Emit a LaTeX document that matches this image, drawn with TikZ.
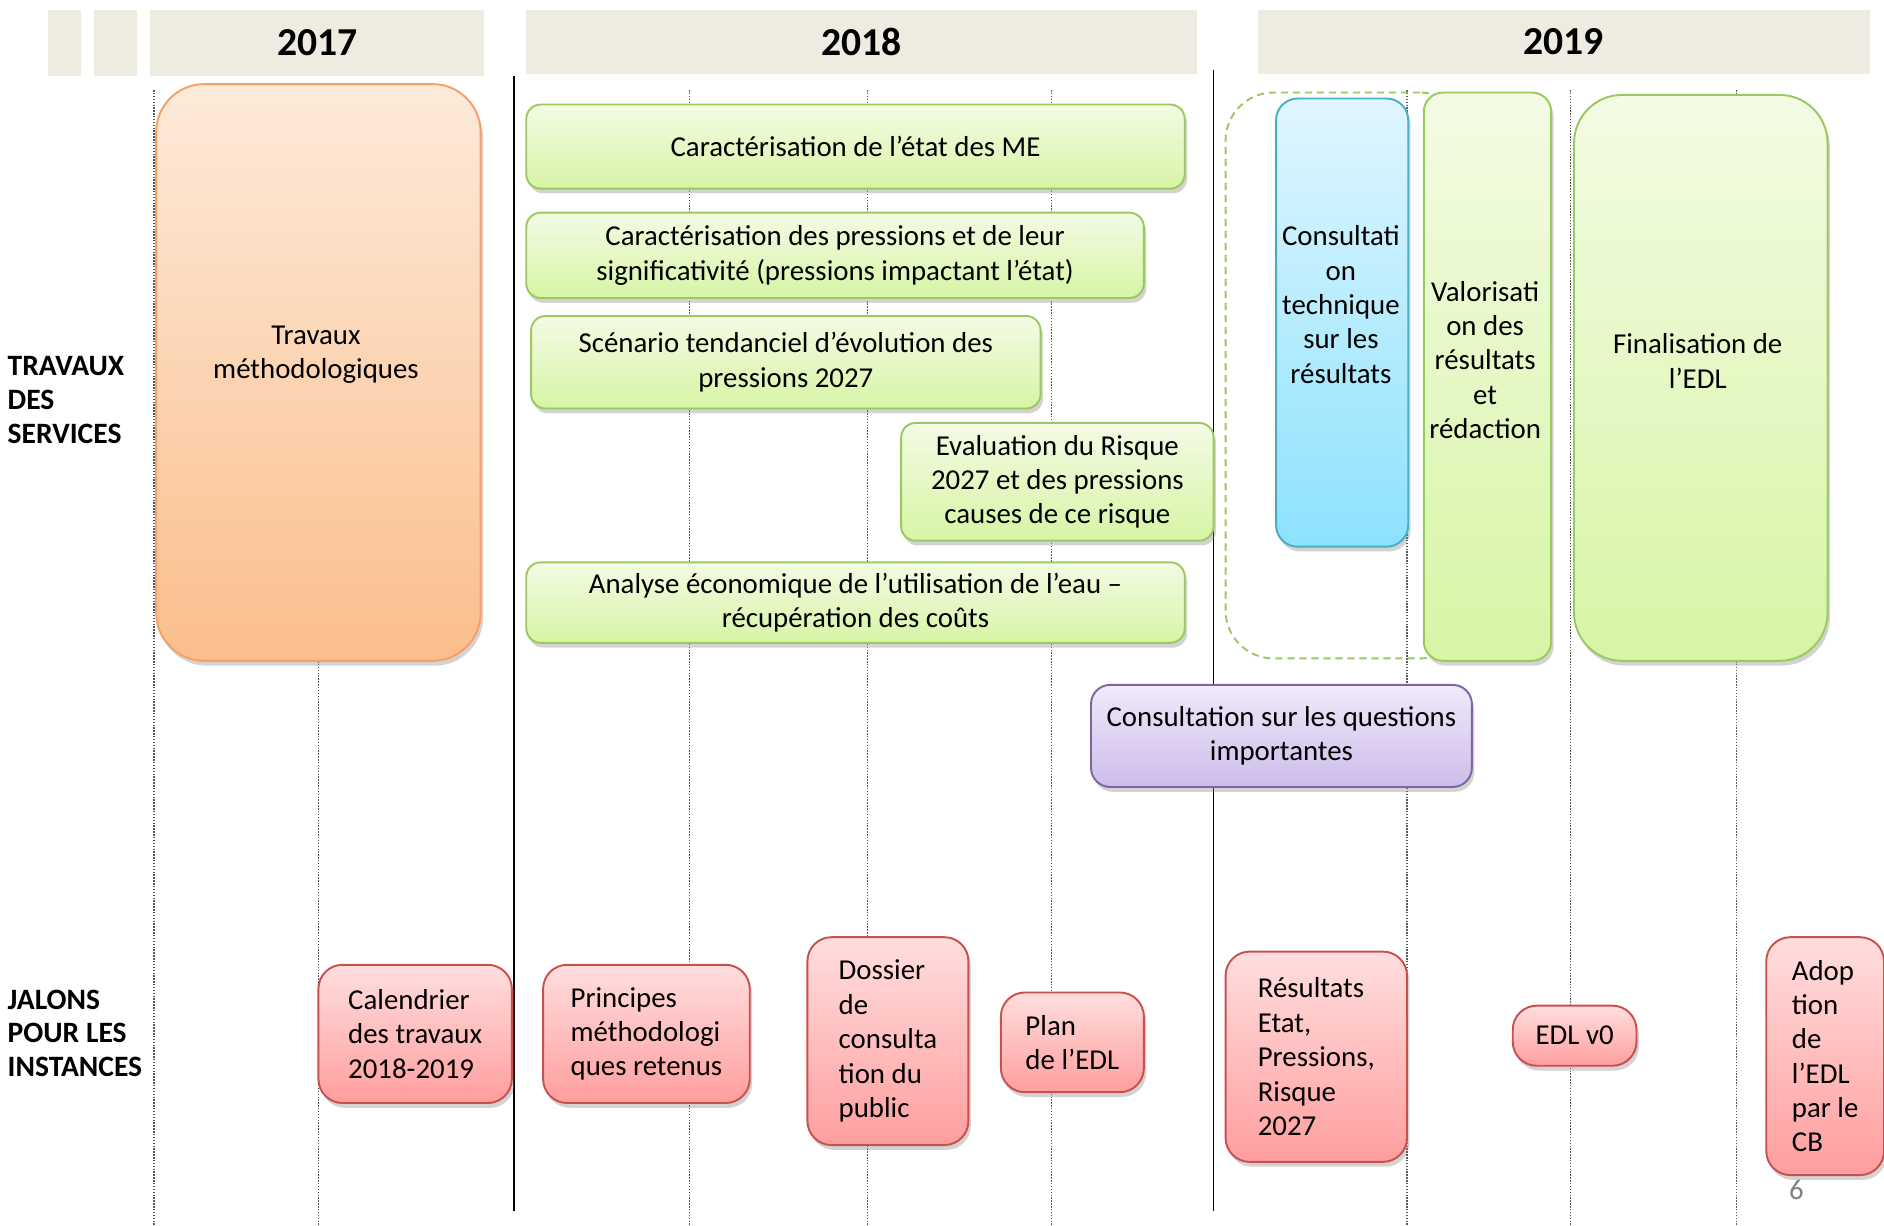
\documentclass[tikz,border=0pt]{standalone}
\usepackage{fontspec}
\setmainfont{Carlito}
\usetikzlibrary{shadows}

\definecolor{beige}{RGB}{238,236,225}
\definecolor{vertbord}{RGB}{155,200,95}
\definecolor{verthaut}{RGB}{243,251,228}
\definecolor{vertbas}{RGB}{214,245,165}
\definecolor{orangebord}{RGB}{247,160,100}
\definecolor{orangehaut}{RGB}{253,234,218}
\definecolor{orangebas}{RGB}{251,190,140}
\definecolor{bleubord}{RGB}{75,172,198}
\definecolor{bleuhaut}{RGB}{224,246,254}
\definecolor{bleubas}{RGB}{140,226,253}
\definecolor{violetbord}{RGB}{128,100,162}
\definecolor{violethaut}{RGB}{240,234,250}
\definecolor{violetbas}{RGB}{205,188,235}
\definecolor{rougebord}{RGB}{200,80,77}
\definecolor{rougehaut}{RGB}{255,222,222}
\definecolor{rougebas}{RGB}{255,158,158}

\tikzset{
  bloc/.style={rounded corners=6pt, line width=0.8pt, inner sep=0pt, align=center,
    drop shadow={shadow xshift=1pt, shadow yshift=-2pt, opacity=0.35}},
  travail/.style={bloc, draw=vertbord, top color=verthaut, bottom color=vertbas},
  methodo/.style={bloc, rounded corners=20pt, draw=orangebord, top color=orangehaut, bottom color=orangebas},
  consult/.style={bloc, rounded corners=9pt, draw=bleubord, top color=bleuhaut, bottom color=bleubas},
  questions/.style={bloc, rounded corners=8pt, draw=violetbord, top color=violethaut, bottom color=violetbas},
  jalon/.style={bloc, rounded corners=10pt, align=left, draw=rougebord, top color=rougehaut, bottom color=rougebas},
  groupe/.style={draw=vertbord, dash pattern=on 3pt off 2pt, rounded corners=20pt, line width=0.8pt},
  annee/.style={fill=beige, inner sep=0pt, font=\fontsize{16.5}{18}\bfseries\selectfont},
  rubrique/.style={anchor=west, align=left, inner sep=0pt, font=\fontsize{12.3}{14}\bfseries\selectfont},
  pointille/.style={black!65, dash pattern=on 0.6pt off 0.6pt, line width=0.6pt},
  texte/.style={align=center, inner sep=0pt},
}

\begin{document}
\begin{tikzpicture}[x=0.5pt,y=0.5pt,yscale=-1,xscale=1,every node/.style={font=\fontsize{12}{14.3}\selectfont}]
\useasboundingbox (0,0) rectangle (1568,1020);
\clip (0,0) rectangle (1568,1020);

% Years
\node[annee, minimum width=13.5pt, minimum height=27.5pt] (vide1) at (53.5,35.5) {};
\node[annee, minimum width=18pt, minimum height=27.5pt] (vide2) at (96,35.5) {};
\node[annee, minimum width=139pt, minimum height=27.5pt] (an2017) at (264,35.5) {2017};
\node[annee, minimum width=279pt, minimum height=27pt] (an2018) at (717,35) {2018};
\node[annee, minimum width=254.5pt, minimum height=27pt] (an2019) at (1301.5,35) {2019};

% Grid
\foreach \x in {128,265,574,722,875,1171,1307,1445}
  \draw[pointille] (\x,75) -- (\x,1020);
\draw[line width=0.7pt] (428,63) -- (428,1008);
\draw[line width=0.7pt] (1010,58) -- (1010,1008);

% Row labels
\node[rubrique] (travaux) at (6,333) {TRAVAUX\\DES\\SERVICES};
\node[rubrique] (jalons) at (6,860) {JALONS\\POUR LES\\INSTANCES};

% Travaux des services
\node[methodo, minimum width=135pt, minimum height=240pt] (methodo) at (265,310) {};
\node[texte] (methodotxt) at (263,295) {Travaux\\méthodologiques};

\node[travail, minimum width=274pt, minimum height=35pt] (etat) at (712,122) {Caractérisation de l’état des ME};
\node[travail, minimum width=257pt, minimum height=35.5pt] (pressions) at (695,212.5) {Caractérisation des pressions et de leur\\significativité (pressions impactant l’état)};
\node[travail, minimum width=212pt, minimum height=38.5pt] (scenario) at (654,301.5) {Scénario tendanciel d’évolution des\\pressions 2027};
\node[travail, minimum width=130pt, minimum height=49pt] (risque) at (880,401) {Evaluation du Risque\\2027 et des pressions\\causes de ce risque};
\node[travail, minimum width=274pt, minimum height=33.5pt] (economie) at (712,501.5) {Analyse économique de l’utilisation de l’eau –\\récupération des coûts};

\node[groupe, minimum width=101pt, minimum height=235.5pt] (groupe) at (1121,312.5) {};
\node[consult, minimum width=55pt, minimum height=186.5pt] (technique) at (1117,268.5) {};
\node[texte] (techniquetxt) at (1116,253.5) {Consultati\\on\\technique\\sur les\\résultats};
\node[travail, rounded corners=8pt, minimum width=53pt, minimum height=236.5pt] (valo) at (1238,313.5) {};
\node[texte] (valotxt) at (1236,299.5) {Valorisati\\on des\\résultats\\et\\rédaction};
\node[travail, rounded corners=20pt, minimum width=105.5pt, minimum height=235.5pt] (final) at (1415.5,314.5) {};
\node[texte] (finaltxt) at (1413,300.5) {Finalisation de\\l’EDL};

\node[questions, minimum width=158.5pt, minimum height=42.5pt] (questions) at (1066.5,612.5) {Consultation sur les questions\\importantes};

% Jalons
\node[jalon, minimum width=80.5pt, minimum height=57.5pt] (calendrier) at (345.5,860.5) {Calendrier\\des travaux\\2018-2019};
\node[jalon, minimum width=86pt, minimum height=57.5pt] (principes) at (538,860.5) {Principes\\méthodologi\\ques retenus};
\node[jalon, minimum width=67pt, minimum height=86.5pt] (dossier) at (739,866.5) {Dossier\\de\\consulta\\tion du\\public};
\node[jalon, minimum width=59.5pt, minimum height=41.5pt] (plan) at (892.5,867.5) {Plan\\de l’EDL};
\node[jalon, minimum width=75.5pt, minimum height=87.5pt] (resultats) at (1095.5,879.5) {Résultats\\Etat,\\Pressions,\\Risque\\2027};
\node[jalon, align=center, minimum width=51.5pt, minimum height=25pt] (edlv0) at (1310.5,862) {EDL v0};
\node[jalon, minimum width=49pt, minimum height=99pt] (adoption) at (1519,879) {Adop\\tion\\de\\l’EDL\\par le\\CB};

\node[text=gray] (page) at (1495,990) {6};
\end{tikzpicture}
\end{document}
